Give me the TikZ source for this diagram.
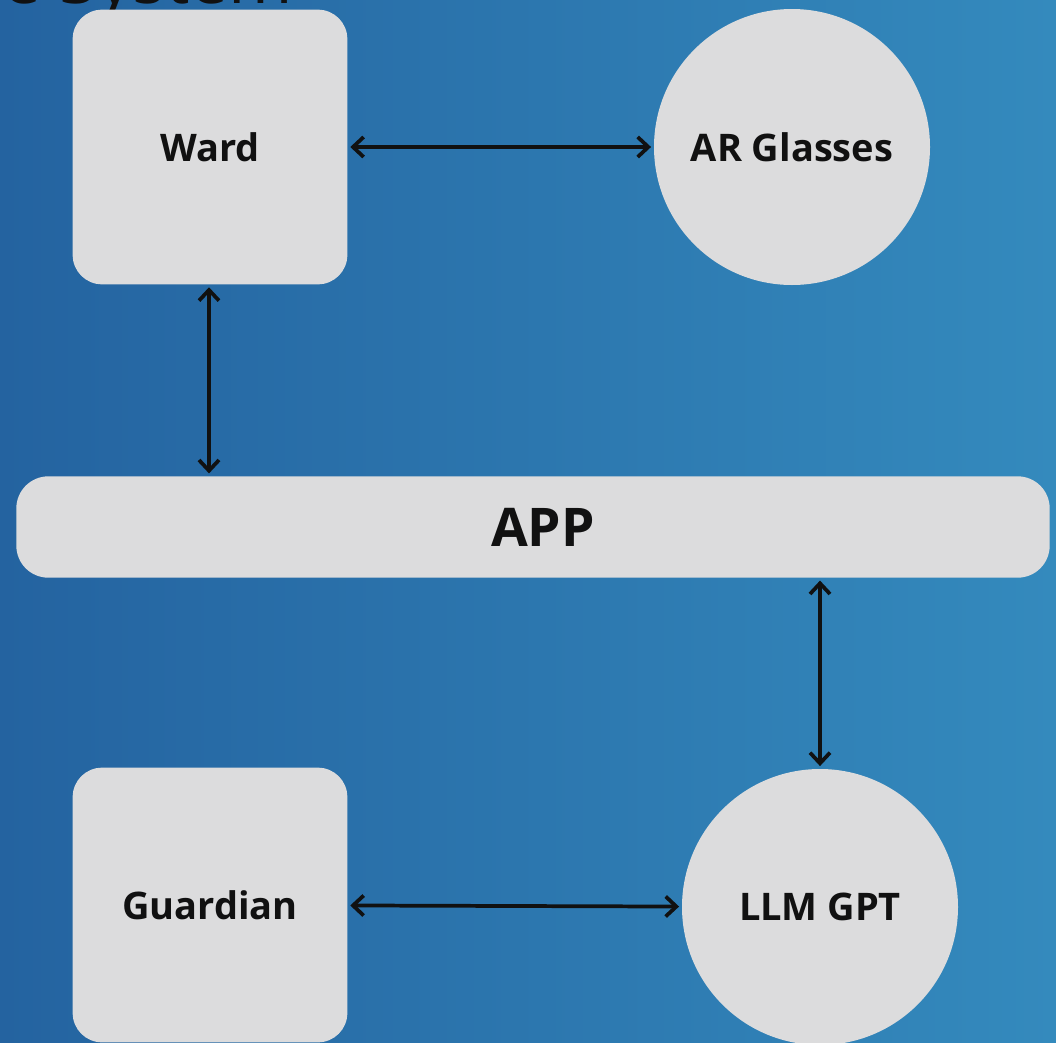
\documentclass[tikz,border=0pt]{standalone}
\usepackage{fontspec}
\setmainfont{Open Sans}
\usetikzlibrary{arrows.meta}
\definecolor{bgleft}{RGB}{36,99,160}
\definecolor{bgright}{RGB}{52,138,189}
\definecolor{boxgray}{RGB}{220,220,221}
\definecolor{ink}{RGB}{17,17,17}
\tikzset{
	block/.style={fill=boxgray,rounded corners=22pt,minimum width=206pt,minimum height=206pt,font=\bfseries\fontsize{28.5}{32}\selectfont,text=ink},
	disc/.style={fill=boxgray,circle,minimum size=207pt,inner sep=0pt,font=\bfseries\fontsize{28.5}{32}\selectfont,text=ink},
	bar/.style={fill=boxgray,rounded corners=24pt,minimum width=775pt,minimum height=76pt},
	link/.style={{Straight Barb[length=8pt,width=15pt]}-{Straight Barb[length=8pt,width=15pt]},line width=2.8pt,ink,shorten <=2pt,shorten >=2pt}
}
\begin{document}
\begin{tikzpicture}[x=0.75pt,y=-0.75pt,line join=round,line cap=round]
	\useasboundingbox (0,0) rectangle (1056,1042);
	\shade[left color=bgleft,right color=bgright] (0,0) rectangle (1056,1042);
	% cut off heading
	\node[anchor=base west,inner sep=0pt,text=ink,font=\fontsize{52}{58}\selectfont] (title) at (2,3) {e System};
	% blocks
	\node[block] (ward) at (210,147) {Ward};
	\node[disc] (glasses) at (792,147) {AR Glasses};
	\node[bar] (app) at (533,527) {};
	\node[text=ink,font=\bfseries\fontsize{40}{46}\selectfont] (applabel) at (543,527) {APP};
	\node[block] (guardian) at (210,905) {Guardian};
	\node[disc] (llm) at (820,907) {LLM GPT};
	% links
	\draw[link] (ward) -- (glasses);
	\draw[link] (ward.south -| 209,0) -- (209,0 |- app.north);
	\draw[link] (820,0 |- app.south) -- (llm);
	\draw[link] (guardian) -- (llm);
\end{tikzpicture}
\end{document}
